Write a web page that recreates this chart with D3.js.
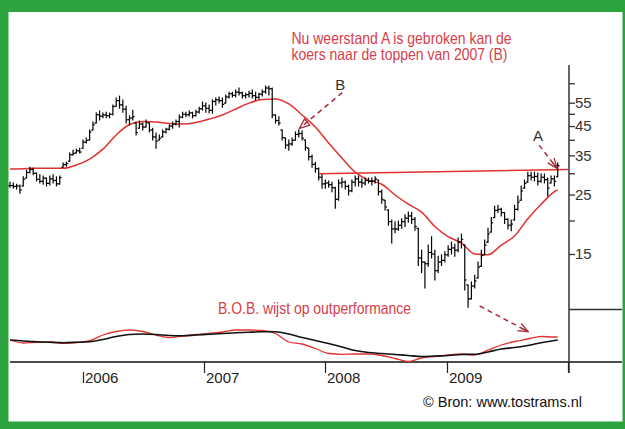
<!DOCTYPE html>
<html><head><meta charset="utf-8">
<script src="https://cdn.jsdelivr.net/npm/d3@7"></script>
<style>html,body{margin:0;padding:0;background:#fff;} svg{display:block;}</style>
</head><body><svg id="c" width="625" height="429"></svg>
<script>
// ---------- DATA ----------
// price bars (one every 10 days, starting 26 May 2005)
const barStart = "2005-05-26";
const barStepDays = 10;
const barHigh = [27.8,27.6,27.3,27.1,29.1,30.8,31.6,31.4,30.1,29.6,
29.3,28.8,29.3,29.6,29.1,29.3,32.8,33.0,35.7,36.6,
36.9,37.2,39.9,40.6,43.5,46.6,50.3,51.2,50.3,50.7,
50.3,53.9,57.3,58.2,56.3,53.4,49.1,51.6,46.2,47.0,
46.2,47.4,46.2,44.2,42.4,41.7,43.5,44.2,45.4,46.6,
47.4,49.5,50.7,50.7,51.2,50.7,51.6,52.9,55.3,54.8,
53.9,56.3,57.3,57.8,57.3,58.7,60.2,60.2,61.3,62.4,
60.2,59.7,60.7,61.3,60.2,59.7,61.3,63.5,63.5,62.4,
49.5,48.7,43.5,40.6,39.9,40.6,42.8,43.5,43.1,39.9,
37.2,35.1,33.0,31.4,29.6,28.3,28.1,27.8,26.6,28.3,
28.8,28.1,27.1,28.3,29.3,29.3,28.6,28.8,28.8,28.8,
29.1,28.3,26.0,23.8,21.9,20.1,19.8,19.9,20.3,21.0,
21.5,21.4,20.5,18.7,15.5,14.0,16.2,17.4,15.5,14.7,
14.9,15.3,16.1,16.6,16.3,17.2,17.8,16.2,11.5,11.8,
12.5,14.0,15.5,16.9,18.7,20.5,22.6,22.8,22.2,21.4,
20.3,20.1,22.8,24.7,26.9,28.3,30.3,30.3,30.3,30.1,
29.8,29.8,28.8,29.3,29.3,32.8];
const barLow = [26.6,26.4,26.2,25.3,26.9,28.8,30.1,29.6,28.1,27.6,
27.3,26.9,27.1,27.6,26.9,27.3,31.6,31.9,33.3,35.1,
35.7,35.7,37.2,38.9,39.9,43.5,46.2,47.4,48.3,48.3,
48.3,49.5,53.4,52.5,50.7,46.2,45.4,47.4,41.7,44.2,
43.5,44.6,42.8,39.9,37.2,39.9,41.0,42.4,43.5,44.2,
45.4,44.6,48.3,48.7,49.1,48.3,49.1,50.3,51.6,50.7,
50.3,50.3,53.9,54.8,52.9,54.8,57.3,57.8,57.8,58.7,
57.3,57.3,57.8,57.3,56.3,56.8,58.2,59.7,58.7,48.3,
46.2,45.4,39.9,37.2,36.6,38.2,39.9,41.0,39.9,36.6,
33.6,31.6,30.3,28.3,26.4,26.4,26.6,25.6,22.2,23.8,
26.6,26.2,24.9,25.6,26.9,26.9,26.6,27.1,27.6,27.1,
27.6,24.9,23.2,21.9,19.2,16.5,18.0,18.4,18.7,19.0,
19.7,19.5,18.4,13.6,12.8,11.2,13.5,14.5,12.0,12.8,
13.6,14.0,14.7,15.0,14.7,15.3,15.8,11.0,9.5,10.2,
11.2,12.2,13.5,14.9,16.6,18.1,20.5,21.4,20.8,19.5,
18.6,18.3,20.1,21.9,23.8,26.4,27.8,28.3,28.1,27.1,
27.8,27.6,24.7,27.6,26.9,29.1];
const barClose = [27.0,26.8,26.9,26.0,28.5,30.2,31.0,30.0,28.5,28.0,
28.8,27.5,28.6,28.2,27.4,28.9,32.3,32.6,35.2,35.6,
36.4,36.0,39.2,39.8,42.8,45.5,49.6,49.0,49.5,49.2,
49.8,53.2,56.0,54.0,52.0,47.5,48.2,48.8,42.5,45.8,
44.6,46.5,43.5,41.0,39.5,40.5,42.8,43.8,45.0,45.8,
46.8,48.6,49.8,49.6,50.4,49.2,50.8,52.2,53.5,52.4,
51.5,55.6,56.4,56.0,54.2,57.8,59.4,58.6,60.2,59.8,
58.4,58.9,59.6,58.4,57.6,59.2,60.4,62.4,62.0,49.5,
47.2,46.2,40.8,38.2,38.6,39.8,41.9,42.2,40.6,37.5,
34.6,32.4,31.2,29.0,27.4,27.6,27.2,26.5,24.0,27.6,
27.8,26.8,25.8,27.8,28.6,27.8,27.6,28.2,28.0,28.1,
28.6,25.6,24.0,22.5,19.8,18.6,18.6,19.2,19.8,20.4,
20.8,20.2,19.0,14.5,14.0,13.8,15.2,15.0,13.0,14.0,
14.2,14.9,15.6,15.8,15.5,16.6,17.0,12.0,10.2,11.4,
11.9,13.4,14.8,16.2,17.8,19.6,21.8,22.0,21.4,20.2,
19.2,19.4,22.0,23.4,25.8,27.5,29.4,29.0,29.2,28.0,
29.0,28.4,26.4,28.6,28.0,32.0];
// moving average, one value every 4th bar plus the last bar
const maBars = [0,4,8,12,16,20,24,28,32,36,40,44,48,52,56,60,64,68,72,76,80,84,88,92,96,100,104,108,112,116,120,124,128,132,136,140,144,148,152,156,160,164,165];
const maValues = [31.1,31.2,31.3,31.3,31.3,32.2,33.9,36.9,41.7,45.6,46.8,46.6,46.0,45.8,46.4,47.8,49.5,52.1,54.8,56.5,56.8,54.4,49.5,44.6,38.9,34.2,30.3,28.3,27.3,24.9,23.0,21.5,19.0,17.4,16.5,15.0,14.9,16.2,17.5,20.3,23.0,25.6,26.0];
// relative strength panel (black & red), same sampling as the average
const rsBlack = [22,21,20.3,19.7,19.3,19.7,20.3,22.5,25.5,27.5,28,27.5,26.5,26.2,27,27.7,28.5,29.2,29.8,30.2,30.2,28,24.5,21.5,18.5,15,11.5,9.5,8.5,7.5,6.5,5.5,6,6.5,7.5,7.7,10,13,14.5,16.5,19.3,21.5,22];
const rsRed = [22,19,19.7,20,18.7,19.5,21.3,27,30.5,32,30.5,27,24.3,26,27.5,28.7,30,32,32,31.5,28.5,20,18,13.5,8.5,7.7,8,8,6.5,3.5,0.5,4,5.5,7,8,7,12,17,20.5,23,25.5,25,25];
// resistance line A
const resistDates = ["2007-12-14","2010-01-01"];
const resistValues = [29.85,31.0];
// axis ticks
const yTickValues = [15,20,25,30,35,40,45,50,55,65];
const yTickLabels = [15,25,35,45,55];
const yearTicks = [2006,2007,2008,2009,2010];
const yearLabels = ["2006","2007","2008","2009"];
// annotations (data coordinates)
const arrowB = {from:["2008-02-21",60.0], to:["2007-10-15",44.1]};
const arrowA = {from:["2009-10-06",38.2], to:["2009-11-29",31.3]};
const arrowBOB = {from:["2009-04-10",56], to:["2009-09-03",30.3]};

// ---------- DRAW ----------
const svg = d3.select("#c");
const parse = d3.timeParse("%Y-%m-%d");
const x = d3.scaleTime().domain([new Date(2006,0,1), new Date(2010,0,1)]).range([83,568]);
const y = d3.scaleLog().domain([15,55]).range([254,102.7]);
const yRs = d3.scaleLinear().domain([0,53]).range([362,309]);
const start = parse(barStart);
const barDate = i => d3.timeDay.offset(start, i*barStepDays);

const RED = "#e2312f", TXT_RED = "#d6404b", ARROW = "#a62a3a";

// frame
svg.append("rect").attr("width",625).attr("height",429).attr("fill","#fff");

// axes lines
svg.append("line").attr("x1",10).attr("x2",622).attr("y1",362).attr("y2",362).attr("stroke","#111").attr("stroke-width",1.3);
svg.append("line").attr("x1",569).attr("x2",569).attr("y1",65).attr("y2",373).attr("stroke","#333").attr("stroke-width",1.5);
svg.append("line").attr("x1",569).attr("x2",622).attr("y1",309.5).attr("y2",309.5).attr("stroke","#333").attr("stroke-width",1.3);

// right axis
const ax = d3.axisRight(y).tickValues(yTickValues).tickSize(6).tickPadding(0)
  .tickFormat(d => yTickLabels.includes(d) ? d : "");
const gA = svg.append("g").attr("transform","translate(569,0)").call(ax);
gA.select(".domain").remove();
gA.selectAll(".tick line").attr("stroke","#333").attr("stroke-width",1.3);
gA.selectAll(".tick text").attr("font-family","'Liberation Sans',Arial,sans-serif").attr("font-size",15).attr("fill","#333");

// year ticks & labels
yearTicks.forEach((yr,k) => {
  const xx = Math.round(x(new Date(yr,0,1)))+0.5;
  if (k===0) {
    svg.append("line").attr("x1",xx).attr("x2",xx).attr("y1",372).attr("y2",383).attr("stroke","#222").attr("stroke-width",1.2);
  } else {
    svg.append("line").attr("x1",xx).attr("x2",xx).attr("y1",362).attr("y2",373).attr("stroke","#222").attr("stroke-width",1.2);
  }
  if (yearLabels[k]) {
    svg.append("text").attr("x",xx+1.5).attr("y",383).text(yearLabels[k])
      .attr("font-family","'Liberation Sans',Arial,sans-serif").attr("font-size",15).attr("fill","#222");
  }
});

// resistance line
svg.append("line")
  .attr("x1",x(parse(resistDates[0]))).attr("y1",y(resistValues[0]))
  .attr("x2",x(parse(resistDates[1]))).attr("y2",y(resistValues[1]))
  .attr("stroke",RED).attr("stroke-width",1.5);

// moving average
const maLine = d3.line().x((d,k)=>x(barDate(maBars[k]))).y(d=>y(d)).curve(d3.curveMonotoneX);
svg.append("path").attr("d",maLine(maValues)).attr("fill","none").attr("stroke",RED).attr("stroke-width",1.5);

// bars
const gB = svg.append("g").attr("stroke","#000").attr("stroke-width",1.2);
barHigh.forEach((h,i) => {
  const xx = x(barDate(i));
  gB.append("line").attr("x1",xx).attr("x2",xx).attr("y1",y(h)-0.5).attr("y2",y(barLow[i])+0.5);
  gB.append("line").attr("x1",xx).attr("x2",xx+1.8).attr("y1",y(barClose[i])).attr("y2",y(barClose[i]));
  const op = i>0 ? barClose[i-1] : barClose[i];
  gB.append("line").attr("x1",xx-1.8).attr("x2",xx).attr("y1",y(Math.min(Math.max(op,barLow[i]),h))).attr("y2",y(Math.min(Math.max(op,barLow[i]),h)));
});

// lower panel
const rsLine = d3.line().x((d,k)=>x(barDate(maBars[k]))).y(d=>yRs(d)).curve(d3.curveMonotoneX);
svg.append("path").attr("d",rsLine(rsRed)).attr("fill","none").attr("stroke",RED).attr("stroke-width",1.3);
svg.append("path").attr("d",rsLine(rsBlack)).attr("fill","none").attr("stroke","#111").attr("stroke-width",1.6);

// arrow markers
const defs = svg.append("defs");
defs.append("marker").attr("id","tri").attr("markerUnits","userSpaceOnUse")
  .attr("viewBox","0 0 12 10").attr("refX",11).attr("refY",5).attr("markerWidth",12).attr("markerHeight",10).attr("orient","auto")
  .append("path").attr("d","M1,1 L11,5 L1,9 Z").attr("fill","none").attr("stroke",ARROW).attr("stroke-width",1.3);
defs.append("marker").attr("id","vee").attr("markerUnits","userSpaceOnUse")
  .attr("viewBox","0 0 12 10").attr("refX",11).attr("refY",5).attr("markerWidth",12).attr("markerHeight",10).attr("orient","auto")
  .append("path").attr("d","M1,1 L11,5 L1,9 M3,5 L11,5").attr("fill","none").attr("stroke",ARROW).attr("stroke-width",1.3);

function arrow(a, sc, mk){
  svg.append("line")
    .attr("x1",x(parse(a.from[0]))).attr("y1",sc(a.from[1]))
    .attr("x2",x(parse(a.to[0]))).attr("y2",sc(a.to[1]))
    .attr("stroke",ARROW).attr("stroke-width",1.5).attr("stroke-dasharray","5,4")
    .attr("marker-end","url(#"+mk+")");
}
arrow(arrowB, y, "tri");
arrow(arrowA, y, "vee");
arrow(arrowBOB, yRs, "vee");

// letters A and B
svg.append("text").attr("x",x(parse(arrowB.from[0]))-2).attr("y",y(arrowB.from[1])-3).attr("text-anchor","middle")
  .text("B").attr("font-family","'Liberation Sans',Arial,sans-serif").attr("font-size",15).attr("fill","#333");
svg.append("text").attr("x",x(parse(arrowA.from[0]))-1).attr("y",y(arrowA.from[1])-4).attr("text-anchor","middle")
  .text("A").attr("font-family","'Liberation Sans',Arial,sans-serif").attr("font-size",15).attr("fill","#333");

// titles
const tf = "'Liberation Sans Narrow','Liberation Sans',Arial,sans-serif";
svg.append("text").attr("x",291.5).attr("y",43.5).text("Nu weerstand A is gebroken kan de")
  .attr("font-family",tf).attr("font-size",16.5).attr("fill",TXT_RED).attr("textLength",220).attr("lengthAdjust","spacingAndGlyphs");
svg.append("text").attr("x",291.5).attr("y",60).text("koers naar de toppen van 2007 (B)")
  .attr("font-family",tf).attr("font-size",16.5).attr("fill",TXT_RED).attr("textLength",216).attr("lengthAdjust","spacingAndGlyphs");
svg.append("text").attr("x",218).attr("y",313.5).text("B.O.B. wijst op outperformance")
  .attr("font-family",tf).attr("font-size",16.5).attr("fill",TXT_RED).attr("textLength",193).attr("lengthAdjust","spacingAndGlyphs");
svg.append("text").attr("x",423).attr("y",407).text("© Bron: www.tostrams.nl")
  .attr("font-family",tf).attr("font-size",15).attr("fill","#111").attr("textLength",159).attr("lengthAdjust","spacingAndGlyphs");

// green frame
const G = "#2ca33f";
svg.append("rect").attr("x",0).attr("y",0).attr("width",625).attr("height",12).attr("fill",G);
svg.append("rect").attr("x",0).attr("y",0).attr("width",8.5).attr("height",429).attr("fill",G);
svg.append("rect").attr("x",622.5).attr("y",0).attr("width",2.5).attr("height",429).attr("fill",G);
svg.append("rect").attr("x",0).attr("y",421.5).attr("width",625).attr("height",7.5).attr("fill",G);
</script></body></html>
